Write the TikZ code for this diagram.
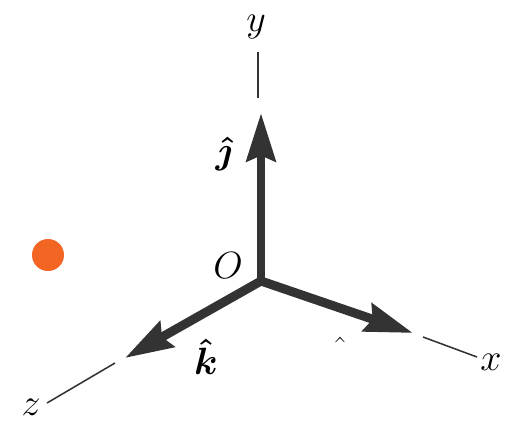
\RequirePackage{fix-cm}
\documentclass[tikz,border=0pt]{standalone}
\usepackage{amsmath}
\usepackage{bm}
\usetikzlibrary{arrows.meta}
\definecolor{dotorange}{HTML}{F26522}
\definecolor{vecgray}{HTML}{333333}

\begin{document}
\begin{tikzpicture}[
  x=0.025cm, y=-0.025cm,
  vec/.style={draw=vecgray,line width=6.4pt,-{Stealth[length=1.2cm,width=0.72cm,inset=0.14cm]}},
  axis/.style={draw=black!80,line width=1.1pt},
  lbl/.style={inner sep=0pt,font=\fontsize{27}{32}\selectfont}
]
  \useasboundingbox (0,0) rectangle (516,424);
  \coordinate (O) at (261,281);
  \coordinate (ytip) at (261,113);
  \coordinate (xtip) at (413,333);
  \coordinate (ztip) at (125,358);
  \coordinate (ya) at (258,52);
  \coordinate (yb) at (258,98);
  \coordinate (xa) at (423,337);
  \coordinate (xb) at (477,357);
  \coordinate (za) at (115,363);
  \coordinate (zb) at (47,403);
  \node[lbl] (ylab) at (256,27) {$y$};
  \node[lbl] (xlab) at (491,362) {$x$};
  \node[lbl] (zlab) at (31,407) {$z$};
  \node[lbl] (olab) at (228,266) {$O$};
  \node[lbl] (jhat) at (224,154) {$\bm{\hat{\jmath}}$};
  \node[lbl] (khat) at (206,357) {$\bm{\hat{k}}$};
  \node[lbl] (ihat) at (340,350) {$\hat{\phantom{\imath}}$};
  \fill[dotorange] (48,255) circle (16);
  \draw[axis] (ya) -- (yb);
  \draw[axis] (xa) -- (xb);
  \draw[axis] (za) -- (zb);
  \draw[vec] (O) -- (ytip);
  \draw[vec] (O) -- (xtip);
  \draw[vec] (O) -- (ztip);
\end{tikzpicture}
\end{document}
